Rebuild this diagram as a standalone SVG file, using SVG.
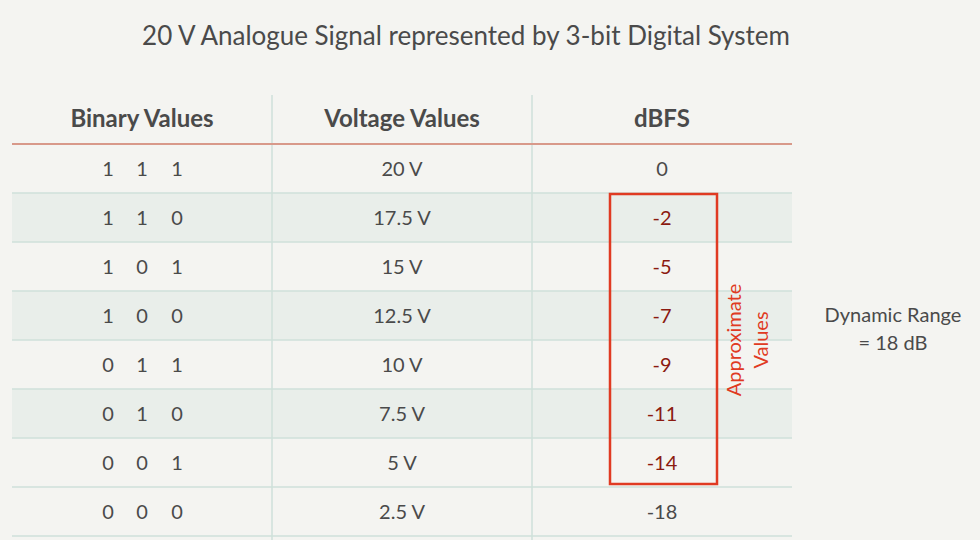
<svg xmlns="http://www.w3.org/2000/svg" width="980" height="540" viewBox="0 0 980 540">
<style>
text{font-family:Lato,"Noto Sans",sans-serif;fill:#4a4a4a;text-anchor:middle}
.h{font-size:24px;font-weight:bold}
.c{font-size:20px}
.r{fill:#8b1a10}
.sh{fill:#e9eeea}
.g{stroke:#cfe0da;stroke-width:1.5}
</style>
<rect width="980" height="540" fill="#f4f4f1"/>
<text x="466" y="45" style="font-size:26px">20 V Analogue Signal represented by 3-bit Digital System</text>
<g id="table">
<rect class="sh" x="12" y="193" width="780" height="49"/>
<rect class="sh" x="12" y="291" width="780" height="49"/>
<rect class="sh" x="12" y="389" width="780" height="49"/>
<g class="g">
<line x1="272" y1="95" x2="272" y2="540"/>
<line x1="532" y1="95" x2="532" y2="540"/>
<line x1="12" y1="193" x2="792" y2="193"/>
<line x1="12" y1="242" x2="792" y2="242"/>
<line x1="12" y1="291" x2="792" y2="291"/>
<line x1="12" y1="340" x2="792" y2="340"/>
<line x1="12" y1="389" x2="792" y2="389"/>
<line x1="12" y1="438" x2="792" y2="438"/>
<line x1="12" y1="487" x2="792" y2="487"/>
<line x1="12" y1="536" x2="792" y2="536"/>
</g>
<line x1="12" y1="144" x2="792" y2="144" stroke="#d8998a" stroke-width="2"/>
<text class="h" x="142" y="127">Binary Values</text>
<text class="h" x="402" y="127">Voltage Values</text>
<text class="h" x="662" y="127">dBFS</text>
<g>
<text x="108" y="176" class="c">1</text><text x="142" y="176" class="c">1</text><text x="177" y="176" class="c">1</text>
<text x="108" y="225" class="c">1</text><text x="142" y="225" class="c">1</text><text x="177" y="225" class="c">0</text>
<text x="108" y="274" class="c">1</text><text x="142" y="274" class="c">0</text><text x="177" y="274" class="c">1</text>
<text x="108" y="323" class="c">1</text><text x="142" y="323" class="c">0</text><text x="177" y="323" class="c">0</text>
<text x="108" y="372" class="c">0</text><text x="142" y="372" class="c">1</text><text x="177" y="372" class="c">1</text>
<text x="108" y="421" class="c">0</text><text x="142" y="421" class="c">1</text><text x="177" y="421" class="c">0</text>
<text x="108" y="470" class="c">0</text><text x="142" y="470" class="c">0</text><text x="177" y="470" class="c">1</text>
<text x="108" y="519" class="c">0</text><text x="142" y="519" class="c">0</text><text x="177" y="519" class="c">0</text>
<text x="402" y="176" class="c">20 V</text>
<text x="402" y="225" class="c">17.5 V</text>
<text x="402" y="274" class="c">15 V</text>
<text x="402" y="323" class="c">12.5 V</text>
<text x="402" y="372" class="c">10 V</text>
<text x="402" y="421" class="c">7.5 V</text>
<text x="402" y="470" class="c">5 V</text>
<text x="402" y="519" class="c">2.5 V</text>
<text x="662" y="176" class="c">0</text>
<text x="662" y="225" class="c r">-2</text>
<text x="662" y="274" class="c r">-5</text>
<text x="662" y="323" class="c r">-7</text>
<text x="662" y="372" class="c r">-9</text>
<text x="662" y="421" class="c r">-11</text>
<text x="662" y="470" class="c r">-14</text>
<text x="662" y="519" class="c">-18</text>
</g>
</g>
<g id="box">
<rect x="610" y="194" width="107" height="290" fill="none" stroke="#e03a22" stroke-width="2.5"/>
<text transform="translate(741,340) rotate(-90)" style="font-size:20px;fill:#e03a22"><tspan x="0" y="0">Approximate</tspan><tspan x="0" y="27">Values</tspan></text>
</g>
<g id="dr">
<text x="893" y="322" class="c">Dynamic Range</text>
<text x="893" y="350" class="c">= 18 dB</text>
</g>
</svg>
